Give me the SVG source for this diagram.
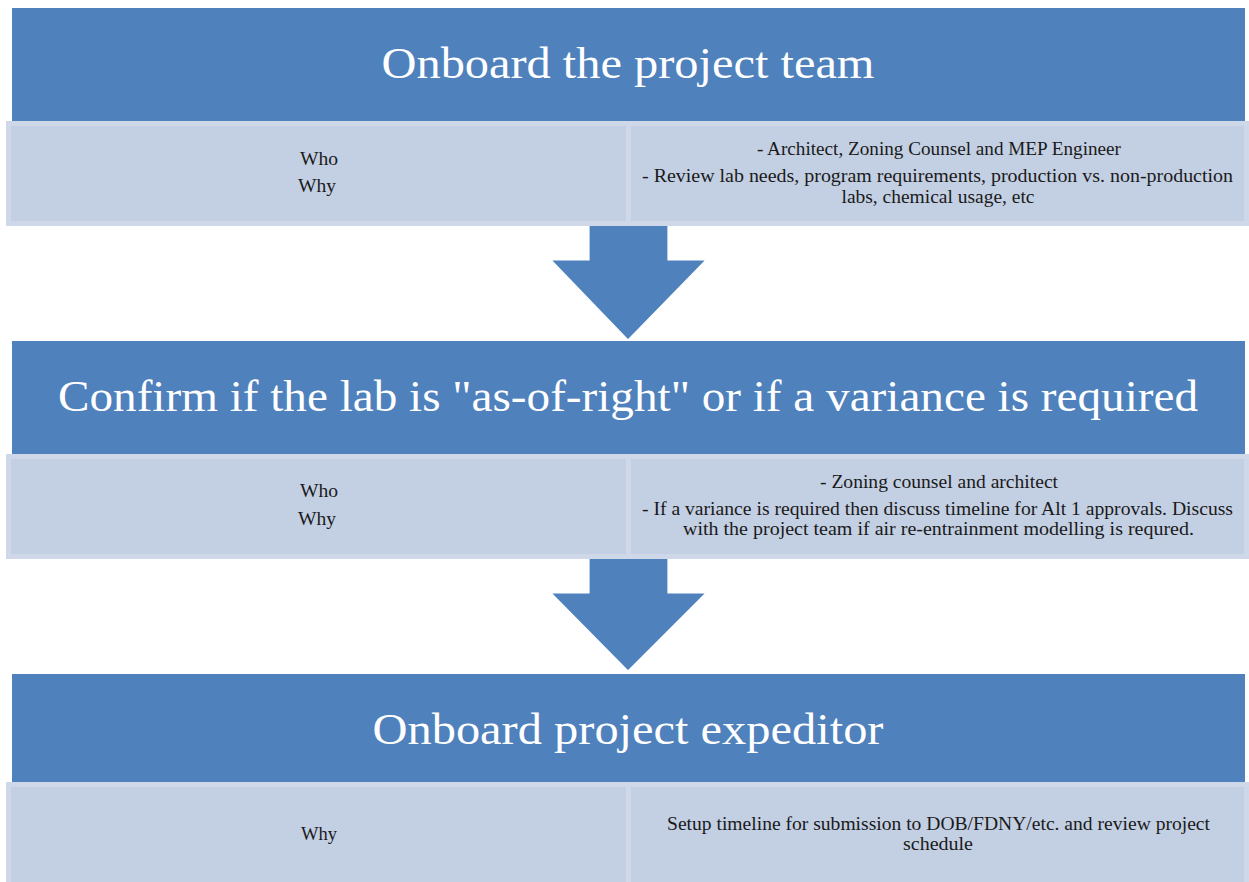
<svg xmlns="http://www.w3.org/2000/svg" width="1249" height="882" viewBox="0 0 1249 882">
<style>
.hdr{fill:#4f81bd}
.box{fill:#c3cfe3;stroke:#cfd8e9;stroke-width:5}
.div{stroke:#cfd8e9;stroke-width:5}
.arrow{fill:#4f81bd;stroke:#ffffff;stroke-width:1.2;stroke-linejoin:miter}
.ht{font-family:"Liberation Serif","DejaVu Serif",serif;font-size:45px;fill:#ffffff;text-anchor:middle}
.bt{font-family:"Liberation Serif","DejaVu Serif",serif;font-size:18.5px;fill:#1a1a1a;text-anchor:middle}
</style>
<rect width="1249" height="882" fill="#ffffff"/>
<g id="connectors">
<polygon class="arrow" points="589,222 668,222 668,260 706,260 628,340 551,260 589,260"/>
<polygon class="arrow" points="589,554 668,554 668,593 706,593 628,671 551,593 589,593"/>
</g>
<g id="step1">
<rect class="hdr" x="12" y="8" width="1233" height="113"/>
<text class="ht" x="628" y="78" textLength="493" lengthAdjust="spacingAndGlyphs">Onboard the project team</text>
</g>
<g id="step1-details">
<rect class="box" x="8.5" y="123.5" width="1238" height="100"/>
<line class="div" x1="628.5" y1="121" x2="628.5" y2="226"/>
<text class="bt" x="319" y="165" textLength="38" lengthAdjust="spacingAndGlyphs">Who</text>
<text class="bt" x="317" y="192" textLength="38" lengthAdjust="spacingAndGlyphs">Why</text>
<text class="bt" x="939" y="155" textLength="364" lengthAdjust="spacingAndGlyphs">- Architect, Zoning Counsel and MEP Engineer</text>
<text class="bt" x="937.5" y="182" textLength="591" lengthAdjust="spacingAndGlyphs">- Review lab needs, program requirements, production vs. non-production</text>
<text class="bt" x="938" y="203" textLength="193" lengthAdjust="spacingAndGlyphs">labs, chemical usage, etc</text>
</g>
<g id="step2">
<rect class="hdr" x="12" y="341" width="1233" height="113"/>
<text class="ht" x="628" y="411" textLength="1140" lengthAdjust="spacingAndGlyphs">Confirm if the lab is "as-of-right" or if a variance is required</text>
</g>
<g id="step2-details">
<rect class="box" x="8.5" y="456.5" width="1238" height="100"/>
<line class="div" x1="628.5" y1="454" x2="628.5" y2="559"/>
<text class="bt" x="319" y="497" textLength="38" lengthAdjust="spacingAndGlyphs">Who</text>
<text class="bt" x="317" y="525" textLength="38" lengthAdjust="spacingAndGlyphs">Why</text>
<text class="bt" x="939" y="488" textLength="238" lengthAdjust="spacingAndGlyphs">- Zoning counsel and architect</text>
<text class="bt" x="937.5" y="515" textLength="591" lengthAdjust="spacingAndGlyphs">- If a variance is required then discuss timeline for Alt 1 approvals. Discuss</text>
<text class="bt" x="938.5" y="535" textLength="511" lengthAdjust="spacingAndGlyphs">with the project team if air re-entrainment modelling is requred.</text>
</g>
<g id="step3">
<rect class="hdr" x="12" y="674" width="1233" height="108"/>
<text class="ht" x="628" y="744" textLength="511" lengthAdjust="spacingAndGlyphs">Onboard project expeditor</text>
</g>
<g id="step3-details">
<rect class="box" x="8.5" y="784.5" width="1238" height="120"/>
<line class="div" x1="628.5" y1="782" x2="628.5" y2="882"/>
<text class="bt" x="319" y="840" textLength="36" lengthAdjust="spacingAndGlyphs">Why</text>
<text class="bt" x="938.5" y="830" textLength="543" lengthAdjust="spacingAndGlyphs">Setup timeline for submission to DOB/FDNY/etc. and review project</text>
<text class="bt" x="938" y="850" textLength="70" lengthAdjust="spacingAndGlyphs">schedule</text>
</g>
</svg>
